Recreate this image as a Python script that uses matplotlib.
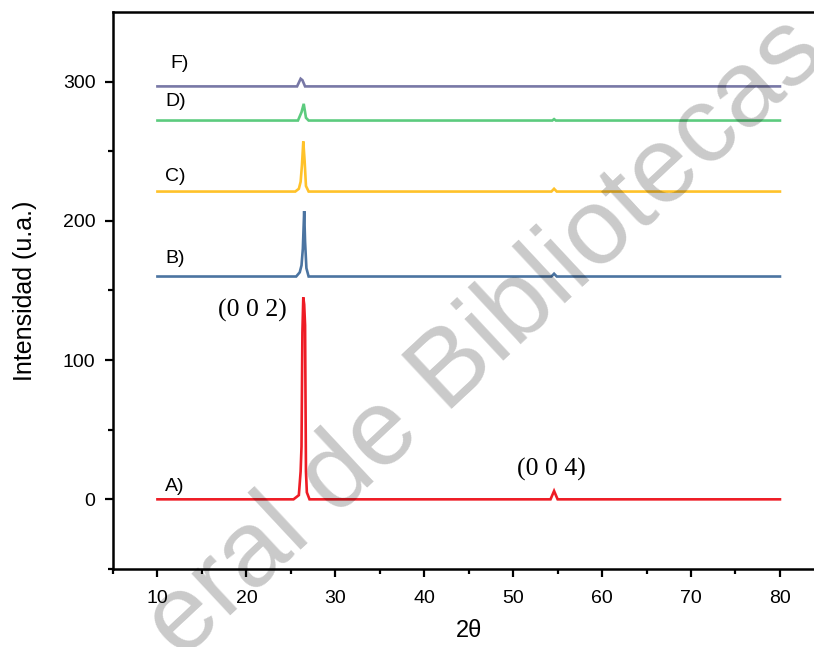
import matplotlib
matplotlib.use("Agg")
import matplotlib.pyplot as plt

# XRD patterns (2θ, intensity), stacked with vertical offsets
a_x = [10, 25.3, 25.9, 26.1, 26.2, 26.3, 26.4, 26.5, 26.6, 26.7, 26.8, 27.1, 54.2, 54.6, 55.0, 80]
a_y = [0, 0, 3, 20, 38, 120, 145, 140, 125, 20, 5, 0, 0, 6, 0, 0]

b_x = [10, 25.6, 26.0, 26.2, 26.35, 26.5, 26.6, 26.75, 27.0, 54.3, 54.6, 54.9, 80]
b_y = [160, 160, 163, 168, 180, 207, 185, 166, 160, 160, 162, 160, 160]

c_x = [10, 25.5, 25.9, 26.1, 26.25, 26.4, 26.55, 26.7, 27.0, 54.3, 54.6, 54.9, 80]
c_y = [221, 221, 223, 228, 240, 257, 243, 225, 221, 221, 223, 221, 221]

d_x = [10, 25.8, 26.2, 26.45, 26.7, 27.0, 54.4, 54.6, 54.8, 80]
d_y = [272, 272, 278, 284, 274, 272, 272, 273, 272, 272]

f_x = [10, 25.7, 26.1, 26.3, 26.6, 80]
f_y = [296.5, 296.5, 302, 301, 296.5, 296.5]

series = [
    ("A)", a_x, a_y, "#ee1c25", 9),
    ("B)", b_x, b_y, "#4b74a1", 173),
    ("C)", c_x, c_y, "#ffc22a", 232),
    ("D)", d_x, d_y, "#5ccb7e", 286),
    ("F)", f_x, f_y, "#7878a6", 313),
]

peak_labels = [("(0 0 2)", 20.7, 135.7), ("(0 0 4)", 54.3, 21.4)]

plt.rcParams["font.family"] = ["Liberation Sans", "DejaVu Sans"]

fig = plt.figure(figsize=(8.14, 6.47), dpi=100)
ax = fig.add_axes([0.1388, 0.1206, 0.874, 0.861])

for name, xs, ys, col, ly in series:
    ax.plot(xs, ys, color=col, lw=1.9, solid_joinstyle="miter")
    ax.text(10.9 if name != "F)" else 11.4, ly, name, fontsize=14,
            ha="left", va="center", color="black")

for txt, px, py in peak_labels:
    ax.text(px, py, txt, fontsize=18.5, family=["Liberation Serif", "DejaVu Serif"],
            ha="center", va="center", color="black")

ax.set_xlim(5, 85)
ax.set_ylim(-50, 350)
ax.set_xticks([10, 20, 30, 40, 50, 60, 70, 80])
ax.set_xticks([5, 15, 25, 35, 45, 55, 65, 75], minor=True)
ax.set_yticks([0, 100, 200, 300])
ax.set_yticks([-50, 50, 150, 250], minor=True)

for s in ax.spines.values():
    s.set_linewidth(1.8)
ax.tick_params(which="major", direction="out", length=6, width=1.6, labelsize=14)
ax.tick_params(which="minor", direction="out", length=3.5, width=1.6)
ax.tick_params(axis="x", which="major", pad=9)
ax.tick_params(axis="y", which="major", pad=6.5)

ax.set_xlabel("2θ", fontsize=17)
ax.set_ylabel("Intensidad (u.a.)", fontsize=18)
ax.xaxis.set_label_coords(0.5, -0.092)
ax.yaxis.set_label_coords(-0.107, 0.5)

# library watermark
fig.text(829, 647 - 57, "eral de Bibliotecas", transform=None,
         fontsize=78, color="black", alpha=0.21, rotation=43,
         rotation_mode="anchor", ha="right", va="baseline", zorder=10)

fig.savefig("out.png", dpi=100)
